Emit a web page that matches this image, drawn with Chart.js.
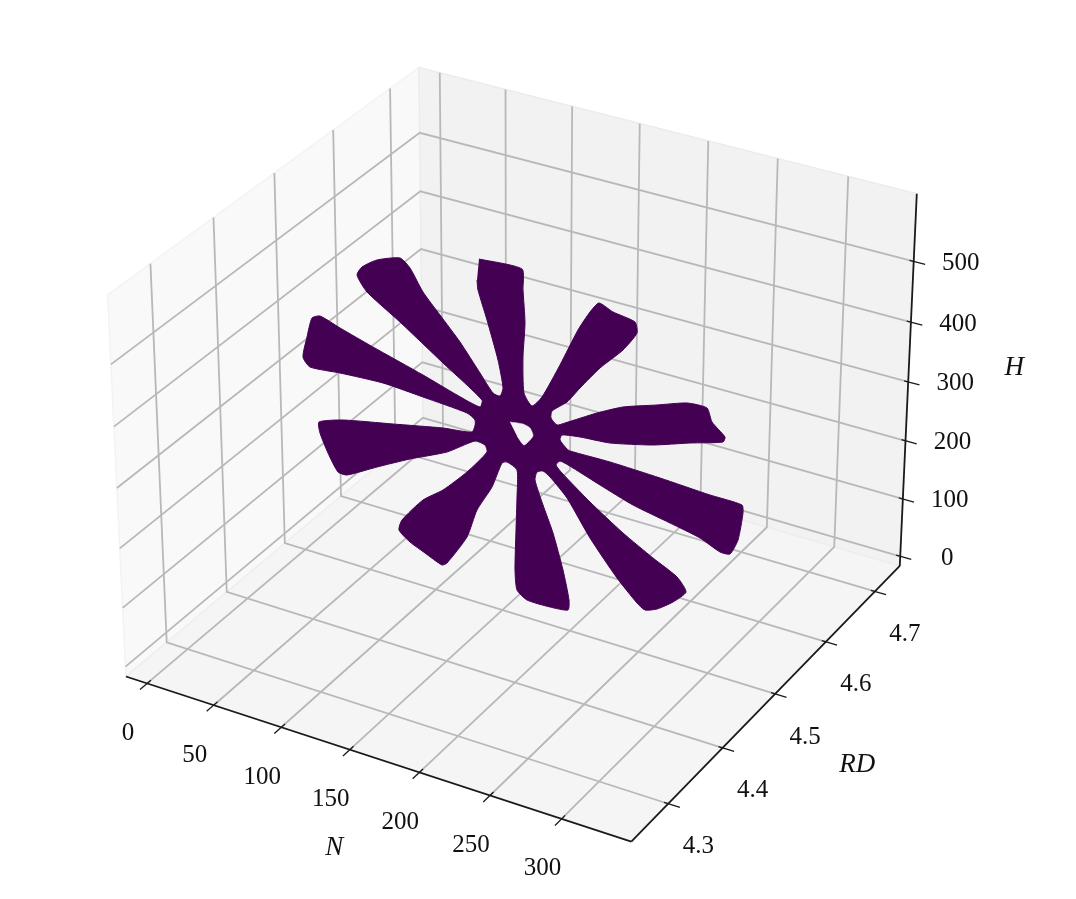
<!DOCTYPE html>
<html>
<head>
<meta charset="utf-8">
<title>N RD H</title>
<script src="https://cdn.jsdelivr.net/npm/chart.js@4"></script>
<style>
  html, body { margin: 0; padding: 0; background: #fff; }
  canvas { display: block; filter: blur(0.5px); }
</style>
</head>
<body>
<canvas id="myChart" width="1076" height="899"></canvas>
<script>
// tick values of the three axes
var nTicks = [0, 50, 100, 150, 200, 250, 300];
var rdTicks = [4.3, 4.4, 4.5, 4.6, 4.7];
var hTicks = [0, 100, 200, 300, 400, 500];

// axis limits
var nLim = [-16, 348];
var rdLim = [4.234, 4.752];
var hLim = [-17, 610];

// outline of the point cloud in view coordinates
var flowerX = [479, 522, 523, 525, 523, 524, 532, 542, 560, 578, 590, 599, 613, 635, 637, 623, 600, 580, 567, 552,
  551, 557, 565, 597, 623, 657, 687, 707, 712, 725, 723, 690, 653, 610, 580, 562,
  560, 567, 570, 610, 660, 710, 742, 743, 738, 730, 720, 700, 670, 633, 600, 573, 560,
  556, 562, 590, 623, 653, 677, 686, 673, 657, 645, 637, 617, 590, 567, 550, 543,
  537, 535, 543, 553, 563, 569, 568, 550, 527, 517, 515, 516, 517, 517,
  507, 502, 492, 477, 467, 447, 442, 425, 410, 399, 402, 423, 443, 467, 487, 485, 475,
  447, 410, 377, 347, 338, 328, 320, 319, 343, 393, 443, 472, 476,
  475, 475, 467, 423, 383, 340, 310, 303, 307, 312, 320, 340, 373, 423, 457, 480, 482,
  443, 400, 367, 357, 362, 377, 400, 410, 423, 440, 460, 480, 493, 500, 503,
  498, 487, 478, 477];
var flowerY = [259, 269, 290, 323, 357, 393, 406, 397, 365, 330, 312, 303, 312, 322, 333, 350, 368, 388, 402, 411,
  418, 425, 423, 413, 407, 405, 403, 408, 422, 437, 442, 443, 445, 443, 437, 435,
  440, 449, 451, 462, 478, 495, 505, 513, 540, 554, 552, 538, 523, 505, 485, 468, 461,
  465, 473, 502, 533, 558, 577, 592, 602, 609, 610, 603, 578, 538, 498, 477, 471,
  472, 480, 505, 533, 570, 600, 610, 607, 600, 590, 570, 530, 497, 470,
  462, 463, 487, 510, 537, 563, 565, 553, 542, 530, 520, 500, 490, 472, 452, 445, 441,
  452, 459, 467, 475, 472, 453, 433, 422, 420, 424, 428, 432, 423,
  430, 420, 413, 397, 383, 373, 367, 357, 337, 318, 316, 328, 347, 375, 395, 407, 400,
  363, 322, 292, 275, 267, 260, 258, 268, 292, 315, 342, 373, 393, 396, 388,
  360, 320, 290, 280];
var holeX = [510, 523, 530, 533, 524, 517];
var holeY = [422, 424, 428, 436, 445, 436];

// 3d labels
var axisNames = ["N", "RD", "H"];

const purple = "#440154";
const gridColor = "#b8b8b8";
const axisColor = "#1a1a1a";
const labelFont = "25px 'Liberation Serif'";
const nameFont = "italic 27px 'Liberation Serif'";

// same camera as a default mplot3d view, elev 30, azim -60
const box = [1.19, 1.19, 0.893];
function project(n, rd, h) {
  const px = ((n - nLim[0]) / (nLim[1] - nLim[0]) - 0.5) * box[0];
  const py = ((rd - rdLim[0]) / (rdLim[1] - rdLim[0]) - 0.5) * box[1];
  const pz = ((h - hLim[0]) / (hLim[1] - hLim[0]) - 0.5) * box[2];
  const X = 0.866025 * px + 0.5 * py;
  const Y = -0.25 * px + 0.433013 * py + 0.866025 * pz;
  const d = 0.433013 * px - 0.75 * py + 0.5 * pz;
  const f = 1 - d / 10;
  return { x: 520 + 486.5 * X / f, y: 436 - 487 * Y / f };
}

function pathData(pts) {
  return pts.map(function (p) { return project(p[0], p[1], p[2]); });
}

var datasets = [];

function addLine(pts, color, width) {
  datasets.push({
    data: pathData(pts),
    showLine: true,
    borderColor: color,
    borderWidth: width,
    pointRadius: 0,
    fill: false
  });
}

function addShape(data, color, edge, width, tension) {
  datasets.push({
    data: data,
    showLine: true,
    backgroundColor: color,
    borderColor: edge,
    borderWidth: width,
    pointRadius: 0,
    tension: tension,
    fill: "shape"
  });
}

const n0 = nLim[0], n1 = nLim[1], r0 = rdLim[0], r1 = rdLim[1], h0 = hLim[0], h1 = hLim[1];

// panes
addShape(pathData([[n0, r0, h0], [n0, r1, h0], [n0, r1, h1], [n0, r0, h1], [n0, r0, h0]]), "#f9f9f9", "#f3f3f3", 1.5, 0);
addShape(pathData([[n0, r1, h0], [n1, r1, h0], [n1, r1, h1], [n0, r1, h1], [n0, r1, h0]]), "#f2f2f2", "#ececec", 1.5, 0);
addShape(pathData([[n0, r0, h0], [n1, r0, h0], [n1, r1, h0], [n0, r1, h0], [n0, r0, h0]]), "#f5f5f5", "#eeeeee", 1.5, 0);

// grid
nTicks.forEach(function (n) {
  addLine([[n, r0, h0], [n, r1, h0], [n, r1, h1]], gridColor, 1.8);
});
rdTicks.forEach(function (r) {
  addLine([[n1, r, h0], [n0, r, h0], [n0, r, h1]], gridColor, 1.8);
});
hTicks.forEach(function (h) {
  addLine([[n0, r0, h], [n0, r1, h], [n1, r1, h]], gridColor, 1.8);
});

// axis lines and tick marks
addLine([[n0, r0, h0], [n1, r0, h0]], axisColor, 1.8);
addLine([[n1, r0, h0], [n1, r1, h0]], axisColor, 1.8);
addLine([[n1, r1, h0], [n1, r1, h1]], axisColor, 1.8);
const dn = n1 - n0, dr = r1 - r0;
nTicks.forEach(function (n) {
  addLine([[n, r0 + 0.012 * dr, h0], [n, r0 - 0.022 * dr, h0]], axisColor, 1.3);
});
rdTicks.forEach(function (r) {
  addLine([[n1 - 0.008 * dn, r, h0], [n1 + 0.022 * dn, r, h0]], axisColor, 1.3);
});
hTicks.forEach(function (h) {
  addLine([[n1 - 0.008 * dn, r1, h], [n1 + 0.022 * dn, r1, h]], axisColor, 1.3);
});

// the cloud
addShape(flowerX.map(function (v, i) { return { x: v, y: flowerY[i] }; }), purple, purple, 1, 0.2);
addShape(holeX.map(function (v, i) { return { x: v, y: holeY[i] }; }), "#f4f4f4", "#f4f4f4", 0.5, 0.2);

// first dataset is painted last in chart.js
datasets.reverse();

const axisText = {
  id: "axisText",
  afterDatasetsDraw: function (chart) {
    const ctx = chart.ctx;
    const sx = chart.scales.x, sy = chart.scales.y;
    function put(text, p, ox, oy, font) {
      ctx.font = font;
      ctx.fillText(text, sx.getPixelForValue(p.x) + ox, sy.getPixelForValue(p.y) + oy);
    }
    ctx.save();
    ctx.fillStyle = "#111";
    ctx.textAlign = "center";
    ctx.textBaseline = "middle";
    nTicks.forEach(function (n) {
      put(String(n), project(n, r0, h0), -19, 50, labelFont);
    });
    rdTicks.forEach(function (r) {
      put(r.toFixed(1), project(n1, r, h0), 30, 43, labelFont);
    });
    hTicks.forEach(function (h) {
      put(String(h), project(n1, r1, h), 47, 2, labelFont);
    });
    put(axisNames[0], project(200, r0, h0), -85, 75, nameFont);
    put(axisNames[1], project(n1, 4.5, h0), 82, 71, nameFont);
    put(axisNames[2], project(n1, r1, 300), 106, -14, nameFont);
    ctx.restore();
  }
};

new Chart("myChart", {
  type: "scatter",
  data: { datasets: datasets },
  plugins: [axisText],
  options: {
    responsive: false,
    animation: false,
    layout: { padding: 0 },
    plugins: {
      legend: { display: false },
      title: { display: false },
      tooltip: { enabled: false }
    },
    scales: {
      x: { type: "linear", display: false, min: 0, max: 1076 },
      y: { type: "linear", display: false, min: 0, max: 899, reverse: true }
    }
  }
});
</script>
</body>
</html>
